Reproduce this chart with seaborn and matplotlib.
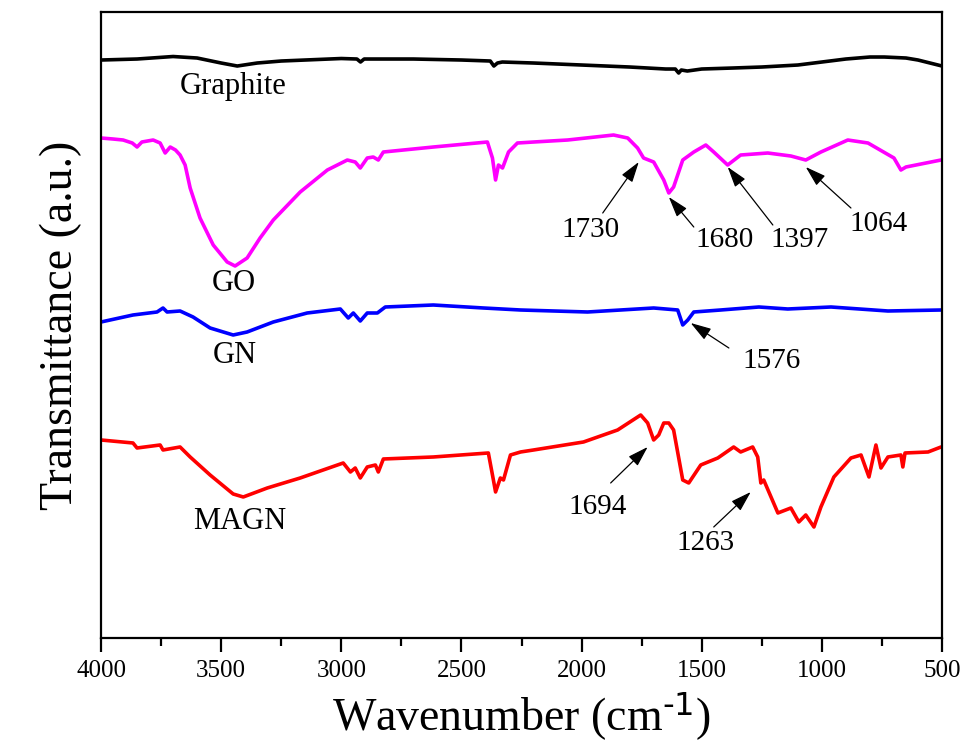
import numpy as np
import pandas as pd
import matplotlib
matplotlib.use("Agg")
import matplotlib.pyplot as plt
import seaborn as sns

# ---- data (wavenumber in cm^-1, transmittance in arbitrary units) ----
graphite_w = [4000, 3850, 3700, 3600, 3500, 3433, 3350, 3250, 3000, 2935, 2920, 2905, 2700, 2500,
              2380, 2365, 2350, 2330, 2200, 2000, 1800, 1650, 1610, 1596, 1585, 1560, 1500, 1370,
              1250, 1100, 1000, 900, 800, 740, 650, 600, 500]
graphite_t = [578, 579, 581.5, 580, 575, 572, 575, 577, 579.5, 579, 576, 579, 579, 578,
              577, 572, 575, 576, 575, 573, 571, 569, 569, 565, 568, 567, 569, 570,
              571, 573, 576, 579, 581, 581, 580, 578, 572]

go_w = [4000, 3950, 3908, 3870, 3850, 3830, 3783, 3754, 3733, 3712, 3690, 3671, 3650, 3629, 3588,
        3533, 3475, 3442, 3392, 3338, 3283, 3171, 3058, 2975, 2942, 2921, 2892, 2867, 2846, 2825,
        2617, 2392, 2371, 2358, 2346, 2329, 2304, 2267, 2200, 2058, 1867, 1808, 1767, 1742, 1700,
        1658, 1637, 1617, 1579, 1533, 1483, 1450, 1392, 1338, 1225, 1129, 1067, 1004, 892, 808,
        700, 671, 650, 504]
go_t = [500, 499, 498, 495, 491, 496, 498, 495, 485, 491, 488, 483, 473, 450, 420,
        393, 376, 372, 380, 400, 418, 446, 468, 478, 476, 470, 480, 481, 478, 486,
        491, 496, 480, 458, 473, 470, 486, 495, 496, 498, 503, 500, 490, 480, 476,
        458, 445, 451, 478, 486, 493, 486, 473, 483, 485, 482, 478, 486, 498, 495,
        480, 468, 471, 478]

gn_w = [4000, 3867, 3767, 3742, 3725, 3671, 3617, 3546, 3450, 3392, 3283, 3142, 3004, 2971, 2950,
        2921, 2892, 2850, 2817, 2617, 2408, 2254, 1975, 1700, 1600, 1579, 1558, 1533, 1421, 1262,
        1142, 962, 725, 504]
gn_t = [316, 323, 326, 330, 326, 327, 321, 310, 303, 306, 316, 325, 329, 320, 325,
        317, 325, 325, 331, 333, 330, 328, 326, 330, 328, 313, 318, 326, 328, 331,
        329, 331, 327, 328]

magn_w = [4000, 3867, 3850, 3754, 3742, 3671, 3629, 3546, 3450, 3408, 3308, 3171, 2992, 2962, 2942,
          2921, 2892, 2858, 2846, 2825, 2617, 2388, 2367, 2358, 2338, 2325, 2296, 2254, 2200, 1992,
          1850, 1754, 1725, 1700, 1679, 1658, 1637, 1617, 1579, 1554, 1504, 1433, 1367, 1338, 1288,
          1267, 1254, 1242, 1183, 1129, 1096, 1067, 1033, 1004, 950, 879, 837, 804, 775, 754,
          725, 671, 663, 654, 558, 504]
magn_t = [198, 195, 190, 193, 188, 191, 181, 163, 144, 141, 150, 160, 175, 166, 170,
          160, 171, 173, 166, 179, 181, 185, 158, 146, 160, 158, 183, 186, 188, 196,
          208, 223, 215, 198, 203, 215, 215, 208, 158, 155, 173, 180, 191, 186, 191,
          181, 155, 158, 125, 130, 116, 123, 111, 131, 161, 180, 183, 161, 193, 170,
          181, 183, 171, 185, 186, 191]

series_names = ["Graphite", "GO", "GN", "MAGN"]
series_colors = ["#000000", "#FF00FF", "#0000FF", "#FF0000"]

x_ticks = [4000, 3500, 3000, 2500, 2000, 1500, 1000, 500]
x_minor = [3750, 3250, 2750, 2250, 1750, 1250, 750]

# series label positions (wavenumber, transmittance)
name_pos = {"Graphite": (3450, 552), "GO": (3446, 354), "GN": (3442, 282), "MAGN": (3421, 116)}
# peak annotations: label, text position, arrow tail, arrow head
peaks = [
    ("1730", (1962, 408), (1912, 425), (1762, 476)),
    ("1680", (1404, 398), (1533, 411), (1637, 441)),
    ("1397", (1092, 398), (1204, 413), (1392, 471)),
    ("1064", (763, 414), (879, 430), (1067, 471)),
    ("1576", (1208, 277), (1387, 290), (1546, 315)),
    ("1694", (1933, 131), (1879, 155), (1725, 191)),
    ("1263", (1483, 95), (1450, 111), (1296, 146)),
]

# ---- build long table ----
frames = []
for name, w, t in [("Graphite", graphite_w, graphite_t), ("GO", go_w, go_t),
                   ("GN", gn_w, gn_t), ("MAGN", magn_w, magn_t)]:
    frames.append(pd.DataFrame({"w": w, "t": t, "sample": name}))
df = pd.concat(frames, ignore_index=True)

sns.set_style("ticks")
plt.rcParams["font.family"] = ["Liberation Serif", "DejaVu Serif"]
plt.rcParams["mathtext.default"] = "regular"
plt.rcParams["axes.unicode_minus"] = False
plt.rcParams["text.color"] = "black"
plt.rcParams["axes.labelcolor"] = "black"
plt.rcParams["xtick.color"] = "black"
plt.rcParams["ytick.color"] = "black"

fig = plt.figure(figsize=(9.63, 7.51), dpi=100)
ax = fig.add_axes([0.1049, 0.1505, 0.8733, 0.8335])

sns.lineplot(data=df, x="w", y="t", hue="sample", hue_order=series_names,
             palette=series_colors, estimator=None, sort=False, lw=2.6,
             legend=False, ax=ax)

ax.set_xlim(4000, 500)
ax.set_ylim(0, 626)
ax.set_xticks(x_ticks)
ax.set_xticklabels([str(v) for v in x_ticks])
ax.set_xticks(x_minor, minor=True)
ax.set_yticks([])
ax.tick_params(axis="x", which="major", direction="out", length=10, width=1.6,
               labelsize=18, pad=6, top=False, colors="black")
ax.tick_params(axis="x", which="minor", direction="out", length=5.5, width=1.6, top=False,
               colors="black")
for sp in ax.spines.values():
    sp.set_visible(True)
    sp.set_linewidth(1.6)
    sp.set_color("black")

ax.set_xlabel(r"Wavenumber (cm$^{\text{-1}}$)", fontsize=33, labelpad=6, color="black")
ax.set_ylabel("Transmittance (a.u.)", fontsize=33, labelpad=14, color="black")

for name in series_names:
    x, y = name_pos[name]
    ax.text(x, y, name, fontsize=22, ha="center", va="center", color="black")

for lab, tpos, tail, head in peaks:
    ax.text(tpos[0], tpos[1], lab, fontsize=21, ha="center", va="center", color="black")
    ax.annotate("", xy=head, xytext=tail,
                arrowprops=dict(arrowstyle="-|>,head_length=0.7,head_width=0.22",
                                lw=0.9, color="black", shrinkA=0, shrinkB=0,
                                mutation_scale=18))

fig.savefig("out.png", dpi=100, facecolor="white")
